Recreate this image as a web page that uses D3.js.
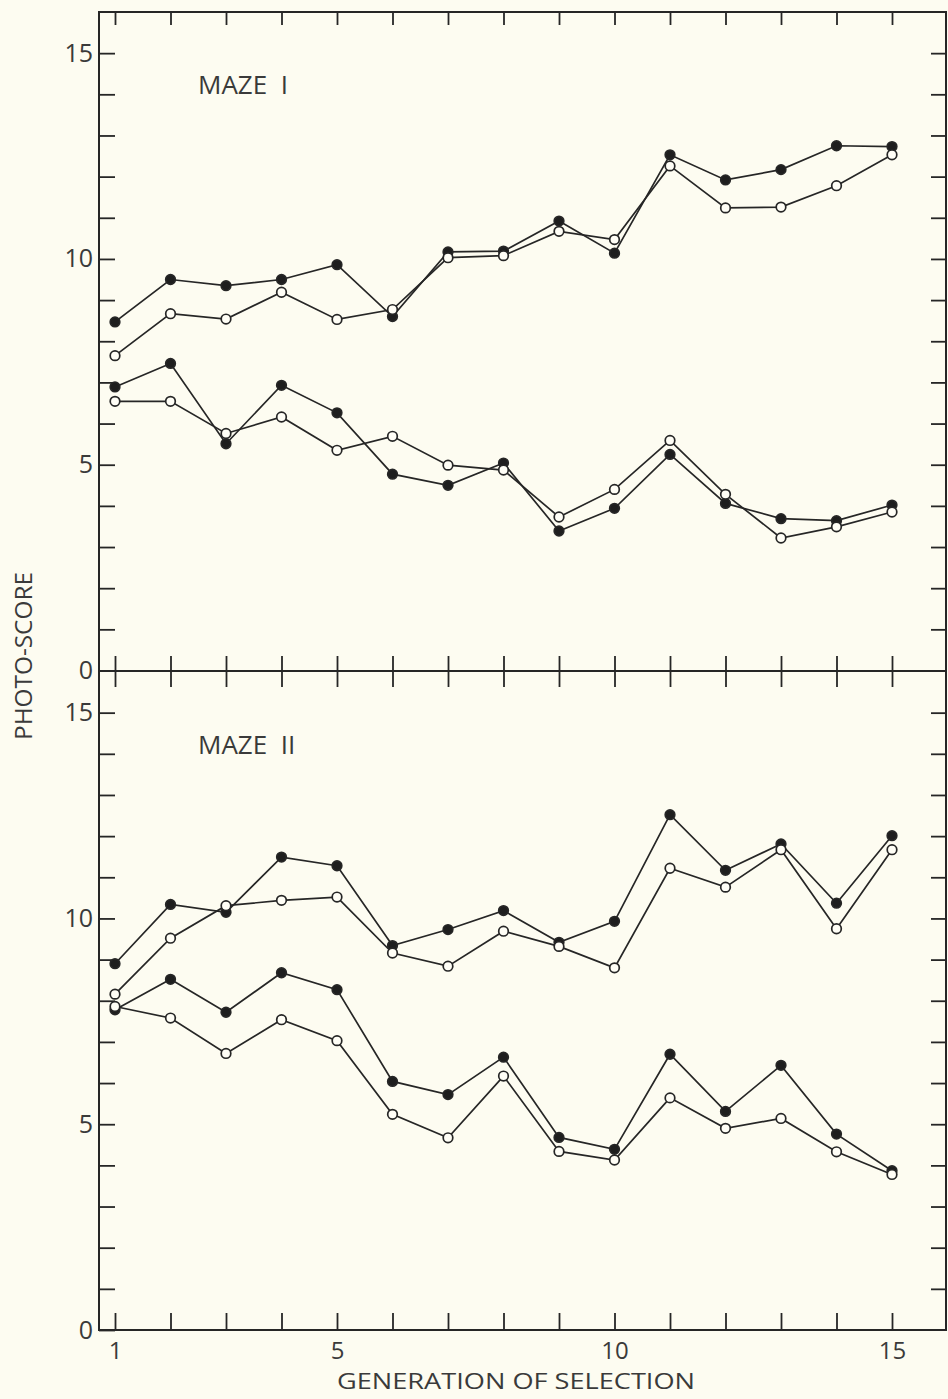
<!DOCTYPE html>
<html>
<head>
<meta charset="utf-8">
<script src="https://cdn.jsdelivr.net/npm/d3@7"></script>
<style>
  html, body { margin: 0; padding: 0; background: #fdfcf1; }
  svg { display: block; }
  text { font-family: "Open Sans", "DejaVu Sans", sans-serif; fill: #3a3a3a; }
</style>
</head>
<body>
<div id="chart"></div>
<script>
// generations on the x axis
var generations = d3.range(1, 16);

// Maze I
var maze1HighFilled = [8.47, 9.50, 9.35, 9.50, 9.86, 8.60, 10.17, 10.19, 10.92, 10.14, 12.53, 11.92, 12.17, 12.75, 12.73];
var maze1HighOpen   = [7.65, 8.67, 8.54, 9.19, 8.53, 8.77, 10.03, 10.08, 10.67, 10.47, 12.26, 11.24, 11.26, 11.78, 12.53];
var maze1LowFilled  = [6.89, 7.46, 5.51, 6.93, 6.26, 4.77, 4.50, 5.04, 3.39, 3.94, 5.25, 4.06, 3.69, 3.64, 4.02];
var maze1LowOpen    = [6.54, 6.54, 5.76, 6.16, 5.35, 5.69, 4.99, 4.87, 3.73, 4.40, 5.59, 4.28, 3.22, 3.49, 3.85];

// Maze II
var maze2HighFilled = [8.90, 10.34, 10.15, 11.49, 11.28, 9.34, 9.73, 10.19, 9.42, 9.93, 12.52, 11.17, 11.81, 10.37, 12.01];
var maze2HighOpen   = [8.16, 9.52, 10.31, 10.44, 10.52, 9.16, 8.84, 9.69, 9.32, 8.80, 11.22, 10.76, 11.67, 9.75, 11.67];
var maze2LowFilled  = [7.78, 8.52, 7.72, 8.68, 8.27, 6.04, 5.72, 6.63, 4.68, 4.39, 6.70, 5.31, 6.43, 4.76, 3.87];
var maze2LowOpen    = [7.86, 7.58, 6.72, 7.54, 7.03, 5.24, 4.67, 6.17, 4.34, 4.13, 5.64, 4.90, 5.14, 4.33, 3.78];

var yTicks = d3.range(0, 16);
var xLabelTicks = [1, 5, 10, 15];

var W = 948, H = 1399;
var left = 99, right = 946;
var ink = "#262626";

var svg = d3.select("#chart").append("svg")
  .attr("width", W).attr("height", H);

var x = d3.scaleLinear().domain([1, 15]).range([115, 892]);

var panels = [
  { name: "MAZE  I",  top: 12,    bottom: 670.5,
    series: [[maze1HighFilled, true], [maze1HighOpen, false], [maze1LowFilled, true], [maze1LowOpen, false]] },
  { name: "MAZE  II", top: 671.5, bottom: 1330,
    series: [[maze2HighFilled, true], [maze2HighOpen, false], [maze2LowFilled, true], [maze2LowOpen, false]] }
];

panels.forEach(function(p, pi) {
  var y = d3.scaleLinear().domain([0, 16]).range([p.bottom, p.top]);
  var g = svg.append("g");

  // left axis, ticks pointing inward
  var la = g.append("g").attr("transform", "translate(" + left + ",0)")
    .call(d3.axisLeft(y).tickValues(yTicks).tickSizeInner(-16).tickSizeOuter(0).tickPadding(6)
      .tickFormat(function(d) { return d % 5 === 0 ? d : ""; }));
  la.select(".domain").remove();
  la.selectAll("line").attr("stroke", ink).attr("stroke-width", 1.8);
  la.selectAll("text").style("font-size", "25px")
    .style("font-family", "\"Open Sans\", sans-serif").attr("fill", "#444");

  // right axis, ticks inward
  var ra = g.append("g").attr("transform", "translate(" + right + ",0)")
    .call(d3.axisRight(y).tickValues(yTicks.slice(1)).tickSizeInner(-15).tickSizeOuter(0).tickFormat(""));
  ra.select(".domain").remove();
  ra.selectAll("line").attr("stroke", ink).attr("stroke-width", 1.8);

  // panel title
  g.append("text")
    .attr("x", 198).attr("y", y(16) + 82)
    .style("white-space", "pre")
    .style("font-size", "26px")
    .attr("fill", "#333")
    .text(p.name);

  // series
  var line = d3.line().x(function(d, i) { return x(generations[i]); }).y(function(d) { return y(d); });
  p.series.forEach(function(s) {
    g.append("path").datum(s[0])
      .attr("d", line)
      .attr("fill", "none")
      .attr("stroke", ink)
      .attr("stroke-width", 1.7);
  });
  p.series.forEach(function(s) {
    g.selectAll(null).data(s[0]).enter().append("circle")
      .attr("cx", function(d, i) { return x(generations[i]); })
      .attr("cy", function(d) { return y(d); })
      .attr("r", 4.8)
      .attr("fill", s[1] ? "#1e1e1e" : "#fffef6")
      .attr("stroke", ink)
      .attr("stroke-width", 1.7);
  });
});

// frame
svg.append("rect")
  .attr("x", left).attr("y", 12)
  .attr("width", right - left).attr("height", 1330 - 12)
  .attr("fill", "none").attr("stroke", ink).attr("stroke-width", 2);
svg.append("line")
  .attr("x1", left).attr("x2", right).attr("y1", 671).attr("y2", 671)
  .attr("stroke", ink).attr("stroke-width", 2);

// top x ticks (downward)
var ta = svg.append("g").attr("transform", "translate(0,12)")
  .call(d3.axisTop(x).tickValues(generations).tickSizeInner(-13).tickSizeOuter(0).tickFormat(""));
ta.select(".domain").remove();
ta.selectAll("line").attr("stroke", ink).attr("stroke-width", 1.8);

// middle x ticks (both sides)
var ma = svg.append("g").attr("transform", "translate(0,671)")
  .call(d3.axisBottom(x).tickValues(generations).tickSizeInner(16).tickSizeOuter(0).tickFormat(""));
ma.select(".domain").remove();
ma.selectAll("line").attr("y1", -15).attr("stroke", ink).attr("stroke-width", 1.8);

// bottom x axis (ticks upward) with labels
var ba = svg.append("g").attr("transform", "translate(0,1330)")
  .call(d3.axisBottom(x).tickValues(generations).tickSizeInner(-17).tickSizeOuter(0).tickPadding(12)
    .tickFormat(function(d) { return xLabelTicks.indexOf(d) >= 0 ? d : ""; }));
ba.select(".domain").remove();
ba.selectAll("line").attr("stroke", ink).attr("stroke-width", 1.8);
ba.selectAll("text").style("font-size", "24px")
  .style("font-family", "\"Open Sans\", sans-serif").attr("fill", "#444");

// axis titles
svg.append("text")
  .attr("x", 516).attr("y", 1389)
  .attr("text-anchor", "middle")
  .attr("textLength", 358).attr("lengthAdjust", "spacingAndGlyphs")
  .style("font-size", "22px")
  .text("GENERATION OF SELECTION");

svg.append("text")
  .attr("transform", "translate(32,656) rotate(-90)")
  .attr("text-anchor", "middle")
  .attr("textLength", 168).attr("lengthAdjust", "spacingAndGlyphs")
  .style("font-size", "24px")
  .text("PHOTO-SCORE");
</script>
</body>
</html>
